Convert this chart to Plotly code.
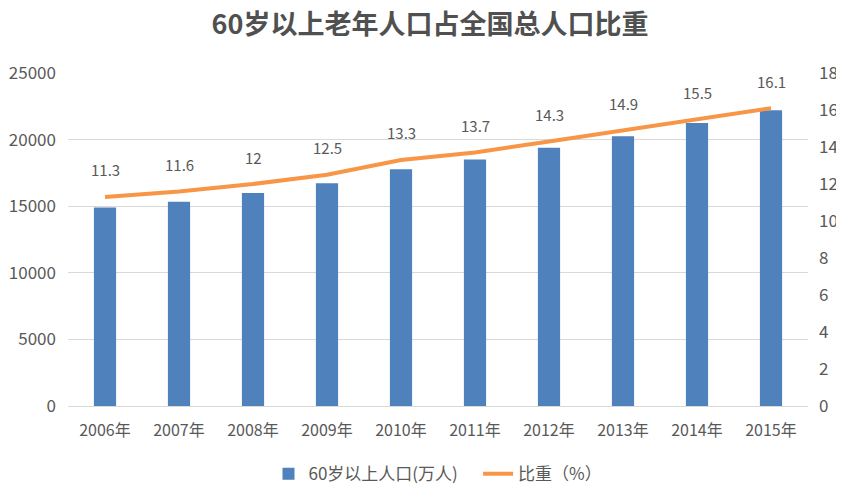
import plotly.graph_objects as go

years = ["2006年", "2007年", "2008年", "2009年", "2010年",
         "2011年", "2012年", "2013年", "2014年", "2015年"]
population = [14901, 15340, 15989, 16714, 17765, 18499, 19390, 20243, 21242, 22200]
share = [11.3, 11.6, 12, 12.5, 13.3, 13.7, 14.3, 14.9, 15.5, 16.1]

font_family = "Noto Sans CJK SC, Noto Sans, sans-serif"
grey = "#595959"

fig = go.Figure()

fig.add_trace(go.Bar(
    x = years, y = population, name = "60岁以上人口(万人)    ",
    marker_color = "#4F81BD", marker_line_width = 0
))

fig.add_trace(go.Scatter(
    x = years, y = share, name = "比重（%）", yaxis = "y2",
    mode = "lines", line = dict(color = "#F79646", width = 4)
))

# value labels above the line
for yr, v in zip(years, share):
    fig.add_annotation(
        x = yr, y = v, yref = "y2", text = str(v), showarrow = False,
        yshift = 27, font = dict(size = 15, color = grey, family = font_family)
    )

fig.update_layout(
    title = dict(text = "<b>60岁以上老年人口占全国总人口比重</b>", x = 0.5, xanchor = "center",
                 y = 0.966, yanchor = "middle",
                 font = dict(size = 27, color = "#505050", family = font_family)),
    width = 844, height = 495,
    margin = dict(l = 60, r = 44, t = 65, b = 97, autoexpand = False),
    paper_bgcolor = "white", plot_bgcolor = "white",
    font = dict(family = font_family, color = grey, size = 16),
    bargap = 0.7,
    showlegend = True,
    legend = dict(orientation = "h", x = 0.5, xanchor = "center", y = -0.205, yanchor = "middle",
                  font = dict(size = 17, color = grey), itemwidth = 30),
    xaxis = dict(showgrid = False, showline = True, linecolor = "#d9d9d9", ticks = "",
                 automargin = False, ticklabelstandoff = 10, tickfont = dict(size = 16, color = grey)),
    yaxis = dict(range = [0, 25000], dtick = 5000, tickformat = "d", showgrid = True,
                 gridcolor = "#d9d9d9", zeroline = False, automargin = False,
                 ticklabelstandoff = 11, tickfont = dict(size = 17, color = grey)),
    yaxis2 = dict(range = [0, 18], dtick = 2, overlaying = "y", side = "right", showgrid = False,
                  zeroline = False, automargin = False, ticklabelstandoff = 10,
                  tickfont = dict(size = 17, color = grey)),
)

fig.write_html("out.html")
